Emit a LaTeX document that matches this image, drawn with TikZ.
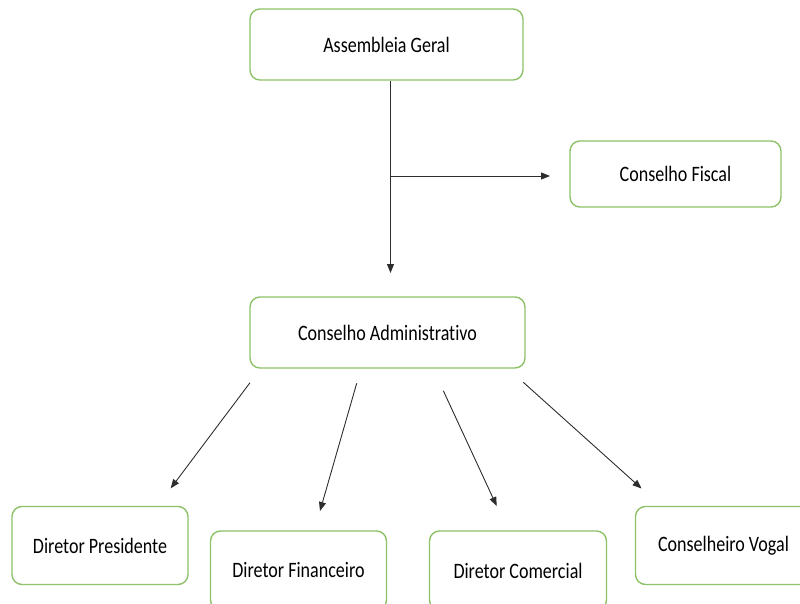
\documentclass[tikz,border=0pt]{standalone}
\usepackage{fontspec}
\setmainfont{Carlito}[FakeStretch=0.82,Ligatures={NoCommon}]
\usetikzlibrary{arrows.meta}
\definecolor{boxgreen}{RGB}{141,194,104}
\definecolor{linegray}{RGB}{45,45,45}
\tikzset{
  orgbox/.style={draw=boxgreen, line width=1.4pt, rounded corners=10pt, fill=white,
    inner sep=0pt, font=\fontsize{22}{24}\selectfont, text=black},
  link/.style={draw=linegray, line width=0.9pt, -{Triangle[length=9pt,width=7pt]}}
}
\begin{document}
\begin{tikzpicture}[x=1pt,y=-1pt]
\useasboundingbox (0,0) rectangle (800,604);
\clip (0,0) rectangle (800,604);
\node[orgbox, minimum width=273pt, minimum height=71pt] (ag) at (386.5,44.5) {Assembleia Geral};
\node[orgbox, minimum width=211pt, minimum height=66pt] (cf) at (675.5,174) {Conselho Fiscal};
\node[orgbox, minimum width=275pt, minimum height=71pt] (ca) at (387.5,332.5) {Conselho Administrativo};
\node[orgbox, minimum width=176pt, minimum height=78pt] (dp) at (100,545.5) {Diretor Presidente};
\node[orgbox, minimum width=176pt, minimum height=79pt] (df) at (298.5,570.5) {Diretor Financeiro};
\node[orgbox, minimum width=177pt, minimum height=79pt] (dc) at (518,570.5) {Diretor Comercial};
\node[orgbox, minimum width=176pt, minimum height=78pt] (cv) at (723.5,545.5) {Conselheiro Vogal};
\coordinate (vtip) at (390.5,273);
\coordinate (branch) at (390.5,176);
\coordinate (htip) at (550,176);
\coordinate (s1) at (250,382.7);  \coordinate (e1) at (170.7,488.3);
\coordinate (s2) at (356.7,383.3); \coordinate (e2) at (320,511);
\coordinate (s3) at (443.3,390.7); \coordinate (e3) at (496.7,506);
\coordinate (s4) at (523.3,382.3); \coordinate (e4) at (641.5,488.5);
\draw[link] (ag.south -| vtip) -- (vtip);
\draw[link] (branch) -- (htip);
\draw[link] (s1) -- (e1);
\draw[link] (s2) -- (e2);
\draw[link] (s3) -- (e3);
\draw[link] (s4) -- (e4);
\end{tikzpicture}
\end{document}
